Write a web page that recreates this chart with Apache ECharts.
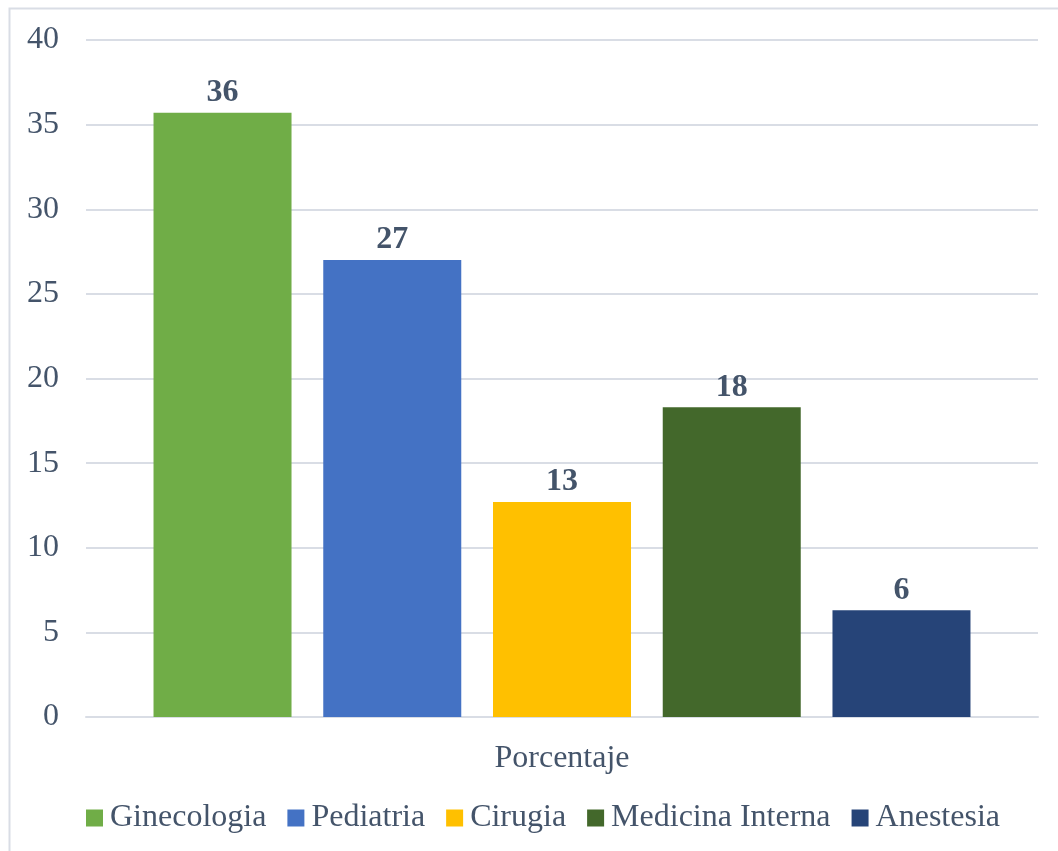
<!DOCTYPE html>
<html>
<head>
<meta charset="utf-8">
<script src="https://cdn.jsdelivr.net/npm/echarts@6/dist/echarts.min.js"></script>
<style>
html,body{margin:0;padding:0;background:#fff;}
#chart{width:1058px;height:851px;}
</style>
</head>
<body>
<div id="chart"></div>
<script>
const categories = ['Porcentaje'];
const seriesNames = ['Ginecologia', 'Pediatria', 'Cirugia', 'Medicina Interna', 'Anestesia'];
const seriesValues = [35.7, 27.0, 12.7, 18.3, 6.3];
const seriesColors = ['#70AD47', '#4472C4', '#FFC000', '#43682B', '#264478'];
const yTicks = { min: 0, max: 40, interval: 5 };

const textColor = '#44546A';
const font = '"Liberation Serif", "Times New Roman", serif';

const chart = echarts.init(document.getElementById('chart'));
chart.setOption({
  animation: false,
  backgroundColor: '#fff',
  graphic: [{
    type: 'rect',
    shape: { x: 9.5, y: 8.5, width: 1060, height: 860 },
    style: { fill: 'none', stroke: '#D9DDE5', lineWidth: 2 },
    silent: true, z: -1
  }],
  grid: { left: 86, right: 20, top: 40, bottom: 134, containLabel: false },
  legend: {
    data: seriesNames,
    top: 797,
    left: 81,
    icon: 'rect',
    itemWidth: 17,
    itemHeight: 17,
    itemGap: 21,
    textStyle: { fontFamily: font, fontSize: 32, color: textColor, padding: [0, 0, 0, 2] }
  },
  xAxis: {
    type: 'category',
    data: categories,
    axisLine: { show: true, lineStyle: { color: '#D9DDE5', width: 2 } },
    axisTick: { show: false },
    axisLabel: { fontFamily: font, fontSize: 32, color: textColor, margin: 26 }
  },
  yAxis: {
    type: 'value',
    min: yTicks.min, max: yTicks.max, interval: yTicks.interval,
    axisLine: { show: false },
    axisTick: { show: false },
    splitLine: { lineStyle: { color: '#D9DDE5', width: 2 } },
    axisLabel: { fontFamily: font, fontSize: 32, color: textColor, margin: 27 }
  },
  series: seriesNames.map((name, i) => ({
    name: name,
    type: 'bar',
    data: [seriesValues[i]],
    barWidth: 138,
    barGap: '23%',
    itemStyle: { color: seriesColors[i] },
    label: {
      show: true,
      position: 'top',
      distance: 4,
      fontFamily: font,
      fontSize: 32,
      fontWeight: 'bold',
      color: textColor,
      formatter: p => Math.round(p.value)
    }
  }))
});
</script>
</body>
</html>
